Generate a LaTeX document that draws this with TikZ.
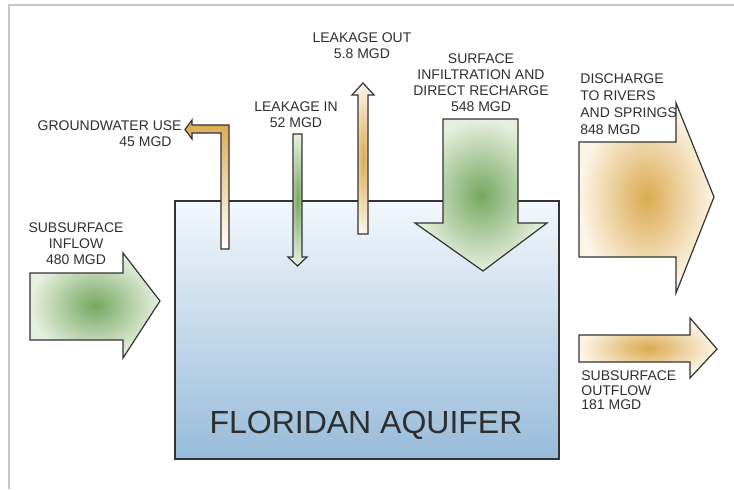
\documentclass[tikz,border=0pt]{standalone}
\usepackage{fontspec}
\setmainfont{Liberation Sans}
\usetikzlibrary{shadings}

\definecolor{aqtop}{HTML}{F3F7FC}
\definecolor{aqbot}{HTML}{97BBD9}
\definecolor{greenmid}{HTML}{76A760}
\definecolor{greenrim}{HTML}{E6F0DF}
\definecolor{tanmid}{HTML}{DBAA50}
\definecolor{tanrim}{HTML}{FDF5E8}
\definecolor{edgegray}{HTML}{333333}
\definecolor{inkgray}{HTML}{2E2E2E}
\definecolor{framegray}{HTML}{C6C6C6}

\begin{document}
\begin{tikzpicture}[
    x=0.5pt, y=-0.5pt,
    every node/.style={text=inkgray},
    lbl/.style={font=\fontsize{7}{8}\selectfont, inner sep=0pt, align=center},
    outline/.style={draw=edgegray, line width=0.6pt, line join=miter},
    greenflow/.style={outline, inner color=greenmid, outer color=greenrim},
    tanflow/.style={outline, inner color=tanmid, outer color=tanrim}
]

\useasboundingbox (0,0) rectangle (734,489);

% Frame
\draw[framegray, line width=0.8pt] (734,5) -- (9,5) -- (9,489);

% Aquifer
\path[draw=edgegray, line width=1pt, top color=aqtop, bottom color=aqbot]
    (175,201) rectangle (559,459);
\node[font=\fontsize{16}{18}\selectfont, anchor=base] (aquifer) at (366,433)
    {FLORIDAN AQUIFER};

% Flows in
\path[greenflow] (30,273) -- (123,273) -- (123,253) -- (160,301)
    -- (123,358) -- (123,340) -- (30,340) -- cycle;
\path[greenflow] (443,119) -- (518,119) -- (518,223) -- (547,223)
    -- (483,271) -- (415,223) -- (443,223) -- cycle;
\path[greenflow] (293,134) -- (302,134) -- (302,257) -- (307,257)
    -- (297.5,266) -- (288,257) -- (293,257) -- cycle;

% Flows out
\path[outline, top color=tanmid, bottom color=white]
    (221,249) -- (221,133) -- (192,133) -- (192,139) -- (185,129.5)
    -- (192,120) -- (192,125) -- (229,125) -- (229,249) -- cycle;
\path[tanflow] (358,234) -- (358,95) -- (352,95) -- (363,83)
    -- (374,95) -- (368,95) -- (368,234) -- cycle;
\path[tanflow] (579,142) -- (676,142) -- (676,103) -- (714,197)
    -- (676,293) -- (676,257) -- (579,257) -- cycle;
\path[tanflow] (579,335) -- (690,335) -- (690,318) -- (717,349)
    -- (690,378) -- (690,362) -- (579,362) -- cycle;

% Labels
\node[lbl, anchor=east] (gwuse) at (182,126) {GROUNDWATER USE};
\node[lbl] (gwusemgd) at (145.5,142) {45 MGD};
\node[lbl] (leakin) at (296,114.5) {LEAKAGE IN\\52 MGD};
\node[lbl] (leakout) at (362,45.5) {LEAKAGE OUT\\5.8 MGD};
\node[lbl] (infil) at (481,82.5)
    {SURFACE\\INFILTRATION AND\\DIRECT RECHARGE\\548 MGD};
\node[lbl, align=left, anchor=west, font=\fontsize{7}{8.5}\selectfont]
    (discharge) at (580,104) {DISCHARGE\\TO RIVERS\\AND SPRINGS\\848 MGD};
\node[lbl] (inflow) at (76,243.5) {SUBSURFACE\\INFLOW\\480 MGD};
\node[lbl, align=left, anchor=west, font=\fontsize{7}{7.3}\selectfont]
    (outflow) at (581,390.5) {SUBSURFACE\\OUTFLOW\\181 MGD};

\end{tikzpicture}
\end{document}
